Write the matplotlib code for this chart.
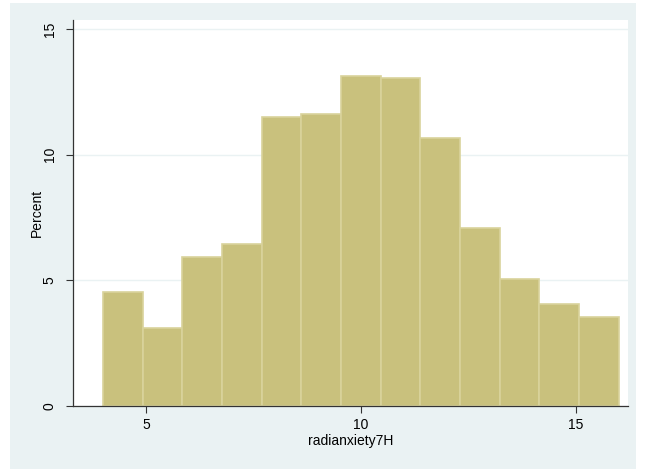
"""
histogram of radianxiety7H, stata s2color look
"""
import matplotlib.pyplot as plt
from matplotlib.patches import Rectangle
import numpy as np

plt.rcParams["font.family"] = ["Liberation Sans", "DejaVu Sans"]

# bins span 4..16 in 13 equal steps
bin_lo = 4.0
bin_hi = 16.0
percent = [4.52, 3.08, 5.94, 6.43, 11.51, 11.61, 13.12, 13.04, 10.68, 7.07, 5.04, 4.05, 3.52]
x_ticks = [5, 10, 15]
y_ticks = [0, 5, 10, 15]

panel_color = "#eaf2f3"
bar_color = "#c9c17d"
edge_color = "#d9d39c"

fig = plt.figure(figsize=(6.47, 4.72), dpi=100)
fig.patch.set_facecolor("white")

# light bluish graph region behind the plot
fig.patches.append(
    Rectangle((10 / 647, 3 / 472), 626 / 647, 466 / 472,
              transform=fig.transFigure, facecolor=panel_color,
              edgecolor="none", zorder=-5)
)

ax = fig.add_axes([73.3 / 647, 1 - 405.7 / 472, (628 - 73.3) / 647, (405.7 - 20) / 472])
ax.set_zorder(1)
ax.set_facecolor("white")

edges = np.linspace(bin_lo, bin_hi, len(percent) + 1)
widths = np.diff(edges)
ax.bar(edges[:-1], percent, width=widths, align="edge",
       color=bar_color, edgecolor=edge_color, linewidth=1.2, zorder=2)

ax.set_xlim(3.308, 16.22)
ax.set_ylim(0, 15.37)
ax.set_xticks(x_ticks)
ax.set_yticks(y_ticks)
ax.set_yticklabels([str(t) for t in y_ticks], rotation=90, va="center")

ax.yaxis.grid(True, color=panel_color, linewidth=1.0, zorder=1)
ax.set_axisbelow(True)

for side in ["top", "right"]:
    ax.spines[side].set_visible(False)
for side in ["left", "bottom"]:
    ax.spines[side].set_color("#333333")
    ax.spines[side].set_linewidth(0.9)

ax.tick_params(axis="both", direction="out", length=5, width=0.8,
               color="#333333", labelsize=10, pad=4)
ax.tick_params(axis="y", pad=7)

ax.set_xlabel("radianxiety7H", fontsize=10, labelpad=1)
ax.set_ylabel("Percent", fontsize=10, va="center")
ax.yaxis.set_label_coords(-0.066, 0.5)

fig.savefig("out.png", dpi=100)
